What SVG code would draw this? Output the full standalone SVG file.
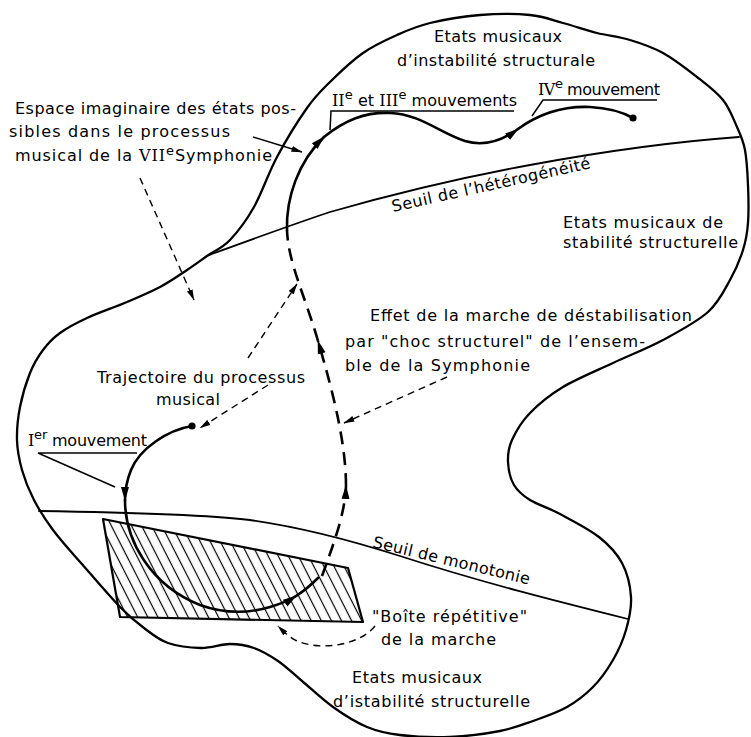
<svg xmlns="http://www.w3.org/2000/svg" width="751" height="737" viewBox="0 0 751 737">
<style>
text{font-family:"DejaVu Sans","Liberation Sans",sans-serif;font-size:16px;fill:#000}
.rn{font-family:"DejaVu Serif","Liberation Serif",serif}
.sup{font-size:13px}
.o{fill:none;stroke:#000;stroke-width:2.3;stroke-linejoin:round}
.s{fill:none;stroke:#000;stroke-width:1.8;stroke-linecap:round}
.t{fill:none;stroke:#000;stroke-width:2.6;stroke-linecap:round}
.hd{fill:none;stroke:#000;stroke-width:2.6;stroke-dasharray:13 8}
.td{fill:none;stroke:#000;stroke-width:1.4;stroke-dasharray:7 5}
.ln{fill:none;stroke:#000;stroke-width:1.5}
</style>
<defs>
<marker id="ab" viewBox="0 0 14 10" refX="13" refY="5" markerWidth="14" markerHeight="10" orient="auto" markerUnits="userSpaceOnUse"><path d="M0,1 L14,5 L0,9 Z" fill="#000"/></marker>
<marker id="as" viewBox="0 0 11 7" refX="10.5" refY="3.5" markerWidth="11" markerHeight="7" orient="auto" markerUnits="userSpaceOnUse"><path d="M0,0.5 L11,3.5 L0,6.5 Z" fill="#000"/></marker>
<pattern id="hatch" patternUnits="userSpaceOnUse" width="9" height="9" patternTransform="rotate(-27)"><line x1="4.5" y1="-1" x2="4.5" y2="10" stroke="#000" stroke-width="1.2"/></pattern>
</defs>
<rect width="751" height="737" fill="#fff"/>

<g id="space-outline">
<path class="o" d="M307,108 C315.8,95.5 320.7,91.2 330,82 S351.8,60.8 363,53 S385.8,40 397,35 S416.2,26.3 430,23 S463.3,16.3 480,15 S516.2,13.7 530,15 S551.8,20 563,23 S585.8,30.2 597,33 S619,36.7 630,40 S651.8,46.8 663,53 S687,69.2 697,77 S716.3,91.7 723,100 S733.3,118.7 737,127 S743.2,140.3 745,150 S747.5,172.8 748,185 S748.8,212.2 748,223 S746,240.5 743,250 S735.8,269.7 730,280 S719.2,302 708,312 S678.8,331.5 663,340 S629.7,355.2 613,363 S576.8,378.7 563,387 S538.5,404.2 530,413 S515.7,431.8 512,440 S507.7,454.5 508,462 S510.3,478.7 514,485 S522.3,495.2 530,500 S548.5,507.8 560,514 S588.7,528.8 599,537 S616.7,553 622,563 S630.3,585.8 631,597 S629,619.5 626,630 S618.5,650.5 613,660 S600.7,679.2 593,687 S577,701.3 567,707 S544.2,717 533,721 S513.8,728.3 500,731 S466.7,736.3 450,737 S413.8,736.7 400,735 S378.2,731.7 367,727 S343.8,714.7 333,707 S311.2,688.7 302,681 S286,666.5 278,661 S262,650.8 254,648 S238.8,644 230,644 S211.3,648.2 201,648 S177.5,646.3 168,643 S152,634 144,628 S130.5,617.8 120,607 S92.2,575.8 81,563 S60.8,540.5 53,530 S39.2,510 34,500 S24.8,480 22,470 S17.3,450.5 17,440 S17.8,418.2 20,407 S26.2,382.5 30,373 S38,356.7 43,350 S52.7,338.3 60,333 S75.8,323.2 87,318 S114.8,307.2 127,302 S150,292.3 160,287 S179.2,275.2 187,270 S199.8,261 207,256 S222.2,248.2 230,240 S246.2,220.8 254,207 S268.2,173.5 277,157 S298.2,120.5 307,108 Z"/>
</g>

<g id="seuil-heterogeneite">
<path class="s" d="M209,255 C250,240 300,222 330,212 C400,192 470,176 530,165 C600,152 670,142 739,137"/>
<text x="393" y="212" transform="rotate(-12.5 393 212)" textLength="203" lengthAdjust="spacing">Seuil de l’hétérogénéité</text>
</g>

<g id="seuil-monotonie">
<path class="s" d="M39,511 C100,512 200,514 250,520 C300,527 350,540 400,556 C480,582 560,602 628,619"/>
<text x="372" y="547" transform="rotate(13.5 372 547)" textLength="161" lengthAdjust="spacing">Seuil de monotonie</text>
</g>

<g id="boite-repetitive">
<polygon points="103,519 348,568 363,622 120,617" fill="url(#hatch)" stroke="#000" stroke-width="2.2" stroke-linejoin="round"/>
<text x="372" y="622" textLength="155" lengthAdjust="spacing">"Boîte répétitive"</text>
<text x="381" y="645" textLength="115" lengthAdjust="spacing">de la marche</text>
</g>

<g id="instabilite-label">
<text x="434" y="42" textLength="128" lengthAdjust="spacing">Etats musicaux</text>
<text x="397" y="66" textLength="198" lengthAdjust="spacing">d’instabilité structurale</text>
</g>

<g id="stabilite-label">
<text x="563" y="228" textLength="160" lengthAdjust="spacing">Etats musicaux de</text>
<text x="563" y="248" textLength="175" lengthAdjust="spacing">stabilité structurelle</text>
</g>

<g id="istabilite-label">
<text x="352" y="683" textLength="130" lengthAdjust="spacing">Etats musicaux</text>
<text x="333" y="707" textLength="197" lengthAdjust="spacing">d’istabilité structurelle</text>
</g>

<g id="espace-label">
<text x="15" y="114" textLength="281" lengthAdjust="spacing">Espace imaginaire des états pos-</text>
<text x="9" y="137" textLength="221" lengthAdjust="spacing">sibles dans le processus</text>
<text x="15" y="161" textLength="257" lengthAdjust="spacing">musical de la <tspan class="rn">VII</tspan><tspan class="sup" dy="-6">e</tspan><tspan dy="6">Symphonie</tspan></text>
</g>

<g id="effet-label">
<text x="370" y="321" textLength="322" lengthAdjust="spacing">Effet de la marche de déstabilisation</text>
<text x="345" y="347" textLength="300" lengthAdjust="spacing">par "choc structurel" de l’ensem-</text>
<text x="345" y="371" textLength="185" lengthAdjust="spacing">ble de la Symphonie</text>
</g>

<g id="trajectoire-label">
<text x="97" y="383" textLength="208" lengthAdjust="spacing">Trajectoire du processus</text>
<text x="156" y="405" textLength="64" lengthAdjust="spacing">musical</text>
</g>

<g id="mvt1-label">
<text x="28" y="446" textLength="119" lengthAdjust="spacing"><tspan class="rn">I</tspan><tspan class="sup" dy="-7">er</tspan><tspan dy="7"> mouvement</tspan></text>
<path class="ln" d="M115,487 L38,453 L137,453"/>
</g>

<g id="mvt23-label">
<text x="332" y="106" textLength="185" lengthAdjust="spacing"><tspan class="rn">II</tspan><tspan class="sup" dy="-7">e</tspan><tspan dy="7"> et </tspan><tspan class="rn">III</tspan><tspan class="sup" dy="-7">e</tspan><tspan dy="7"> mouvements</tspan></text>
<path class="ln" d="M330,130 L331,111 L514,111"/>
</g>

<g id="mvt4-label">
<text x="538" y="95" textLength="122" lengthAdjust="spacing"><tspan class="rn">IV</tspan><tspan class="sup" dy="-7">e</tspan><tspan dy="7"> mouvement</tspan></text>
<path class="ln" d="M532,116 L543,100 L657,100"/>
</g>

<g id="connectors">
<path class="t" d="M192,426 C168,430 140,448 131,470 C127,480 125,490 125,500" marker-end="url(#ab)"/>
<path class="t" d="M125,500 C125,540 150,585 200,605 C225,614 250,613 270,607 C280,604 290,600 296,596" marker-end="url(#ab)"/>
<path class="t" d="M296,596 C304,591 311,585 318,578"/>
<circle cx="192" cy="426" r="3.6" fill="#000"/>
<path class="hd" d="M322,576 C332,548 345,515 346,486" marker-end="url(#ab)"/>
<path class="hd" d="M346,486 C346,445 334,395 318,341" marker-end="url(#ab)"/>
<path class="hd" d="M318,341 C305,296 288,262 287,230"/>
<path class="t" d="M287,230 C286,198 298,162 324,137" marker-end="url(#ab)"/>
<path class="t" d="M324,137 C345,120 365,112 390,113 C420,114 440,133 465,141 C485,147 503,140 518,129" marker-end="url(#ab)"/>
<path class="t" d="M518,129 C540,113 565,106 590,107 C610,108 624,113 633,118"/>
<circle cx="633" cy="118" r="3.6" fill="#000"/>
<path class="ln" d="M253,137 L302,152" marker-end="url(#as)"/>
<path class="td" d="M140,178 L194,300" marker-end="url(#as)"/>
<path class="td" d="M248,358 L297,284" marker-end="url(#as)"/>
<path class="td" d="M268,385 L200,428" marker-end="url(#as)"/>
<path class="td" d="M447,377 L344,423" marker-end="url(#as)"/>
<path class="td" d="M375,626 C360,645 320,652 295,640 C288,636 283,631 278,626" marker-end="url(#as)"/>
</g>
</svg>
